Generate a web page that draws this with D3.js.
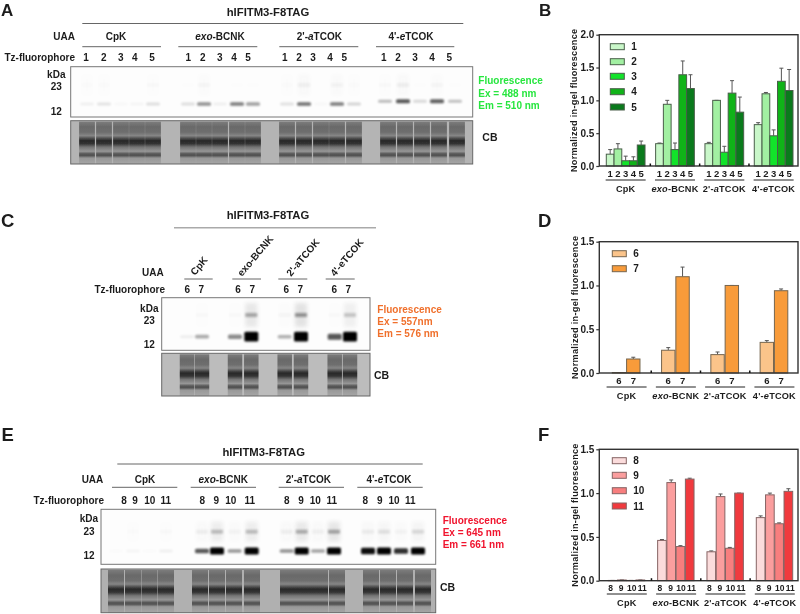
<!DOCTYPE html>
<html><head><meta charset="utf-8">
<style>
html,body{margin:0;padding:0;background:#fff;width:800px;height:614px;overflow:hidden}
svg{display:block;filter:blur(.35px)}
text{font-family:"Liberation Sans",Arial,sans-serif;font-weight:bold;fill:#1c1c1c}
</style>
<script src="https://cdn.jsdelivr.net/npm/d3@7/dist/d3.min.js"></script>
</head><body><svg id="c" width="800" height="614"></svg>
<script>
// ---------- data ----------
const groups = ["CpK","exo-BCNK","2'-aTCOK","4'-eTCOK"];
const seriesB = ["1","2","3","4","5"];
const seriesD = ["6","7"];
const seriesF = ["8","9","10","11"];
const ticksB = [0,0.5,1,1.5,2];
const ticksDF = [0,0.5,1,1.5];
// bar values per group (rows) and series (columns)
const valuesB = [[.18,.26,.08,.08,.32],[.34,.94,.25,1.39,1.18],[.34,1.0,.21,1.11,.82],[.63,1.10,.46,1.29,1.15]];
const errorsB = [[.07,.08,.07,.06,.06],[.01,.06,.10,.21,.21],[.02,0,.09,.19,.23],[.03,.02,.09,.20,.32]];
const valuesD = [[.005,.16],[.26,1.10],[.21,1.0],[.35,.94]];
const errorsD = [[0,.02],[.03,.11],[.03,0],[.02,.02]];
const valuesF = [[.003,.008,.003,.008],[.46,1.12,.39,1.16],[.33,.96,.37,1.0],[.72,.98,.65,1.02]];
const errorsF = [[0,0,0,0],[.01,.03,.01,.01],[.01,.03,.01,0],[.02,.02,.01,.03]];
// relative intensity of the gel bands, per lane
const gelAmain = [.05,.1,.02,.03,.12, .12,.42,.05,.5,.36, .11,.55,.02,.5,.16, .26,.65,.14,.62,.24];
const gelAupper = [.01,.01,0,0,.02, .005,.03,0,.005,.005, .01,.06,0,.04,.01, .02,.07,.005,.03,.005];
const gelAkDa = [12,12,12,12,12, 12,12,12,12,12, 12,12,12,12,12, 13.2,13.2,13.2,13.2,13.2];
const gelCmain = [.06,.32, .45,1, .3,1, .65,1];
const gelCupper = [0,.02, .02,.4, .03,.5, .02,.25];
const gelEmain = [.01,.03,.01,.05, .65,1,.4,1, .42,1,.35,1, .95,1,.82,1];
const gelEupper = [0,.01,0,.02, .07,.3,.04,.3, .07,.38,.06,.42, .08,.13,.04,.16];
const sizeLabels = ["kDa","23","12"];

// ---------- layout / styles ----------
const svg = d3.select("#c");
const defs = svg.append("defs");
[["soft",.8],["smear",2],["cbLane",.55]].forEach(([id,s])=>{
  defs.append("filter").attr("id",id).attr("x","-30%").attr("y","-60%").attr("width","160%").attr("height","220%")
    .append("feGaussianBlur").attr("stdDeviation",s);
});
const lg = defs.append("linearGradient").attr("id","cbGrad").attr("x1",0).attr("x2",0).attr("y1",0).attr("y2",1);
[[0,"#7c7c7c"],[.12,"#6a6a6a"],[.25,"#6e6e6e"],[.33,"#868686"],[.4,"#4a4a4a"],[.45,"#282828"],[.52,"#343434"],[.6,"#747474"],[.7,"#969696"],[.76,"#585858"],[.8,"#525252"],[.86,"#989898"],[1,"#a6a6a6"]]
 .forEach(([o,c])=>lg.append("stop").attr("offset",o).attr("stop-color",c));

function label(t,x,y,o={}){
  const e = svg.append("text").attr("x",x).attr("y",y).attr("dy",".36em")
    .attr("text-anchor",o.anchor||"middle").attr("font-size",o.size||10).text(t);
  if(o.fill) e.style("fill",o.fill);
  return e;
}
function rich(x,y,name,o={}){ // italic the prefix as in the reference
  const m = name.match(/^(exo)(-BCNK)$|^(2'-)(a)(TCOK)$|^(4'-)(e)(TCOK)$/);
  const e = label("",x,y,o);
  if(!m){e.text(name);return e;}
  m.slice(1).filter(Boolean).forEach(s=>{
    e.append("tspan").attr("font-style",(s==="exo"||s==="a"||s==="e")?"italic":"normal").text(s);
  });
  return e;
}
function hline(x1,x2,y,w,c){
  svg.append("line").attr("x1",x1).attr("x2",x2).attr("y1",y).attr("y2",y).attr("stroke",c||"#444").attr("stroke-width",w||.9);
}

function gel(cfg){
  const n = cfg.main.length;
  const yKDa = d3.scaleLog().domain([12,23]).range([cfg.y12,cfg.y23]);
  const g = svg.append("g");
  g.append("rect").attr("x",cfg.x0).attr("y",cfg.y0).attr("width",cfg.x1-cfg.x0).attr("height",cfg.y1-cfg.y0).attr("fill","#fdfdfd");
  const clip = "clip"+cfg.id;
  defs.append("clipPath").attr("id",clip).append("rect").attr("x",cfg.x0).attr("y",cfg.y0).attr("width",cfg.x1-cfg.x0).attr("height",cfg.y1-cfg.y0);
  const b = g.append("g").attr("clip-path",`url(#${clip})`);
  const idx = d3.range(n);
  b.selectAll(".up").data(idx).join("rect")
    .attr("x",i=>cfg.lanes[i]-cfg.w/2+1).attr("width",cfg.w-2)
    .attr("y",i=>yKDa(23)-cfg.smear).attr("height",cfg.smear*2)
    .attr("fill","#333").attr("opacity",i=>cfg.upper[i]*.25).attr("filter","url(#smear)");
  b.selectAll(".ub").data(idx).join("rect")
    .attr("x",i=>cfg.lanes[i]-cfg.w/2+1).attr("width",cfg.w-2)
    .attr("y",yKDa(23)-2).attr("height",4)
    .attr("fill","#222").attr("opacity",i=>cfg.upper[i]*.85).attr("filter","url(#soft)");
  const kd = i=>cfg.kDa?cfg.kDa[i]:12;
  b.selectAll(".mb").data(idx).join("rect")
    .attr("x",i=>cfg.lanes[i]-cfg.w/2).attr("width",cfg.w)
    .attr("y",i=>yKDa(kd(i))-(1.5+cfg.thick*cfg.main[i]*cfg.main[i]))
    .attr("height",i=>3+2*cfg.thick*cfg.main[i]*cfg.main[i])
    .attr("rx",1.5)
    .attr("fill","#000").attr("opacity",i=>cfg.main[i])
    .attr("filter","url(#soft)");
  g.append("rect").attr("x",cfg.x0).attr("y",cfg.y0).attr("width",cfg.x1-cfg.x0).attr("height",cfg.y1-cfg.y0)
    .attr("fill","none").attr("stroke","#777").attr("stroke-width",1);
  // Coomassie panel
  const cb = svg.append("g");
  const cx = "cbclip"+cfg.id;
  defs.append("clipPath").attr("id",cx).append("rect").attr("x",cfg.x0).attr("y",cfg.cb0).attr("width",cfg.x1-cfg.x0).attr("height",cfg.cb1-cfg.cb0);
  const cg = cb.append("g").attr("clip-path",`url(#${cx})`);
  cg.append("rect").attr("x",cfg.x0).attr("y",cfg.cb0).attr("width",cfg.x1-cfg.x0).attr("height",cfg.cb1-cfg.cb0).attr("fill",cfg.bg);
  cg.selectAll(".lane").data(cfg.cbLanes).join("rect")
    .attr("x",c=>c-cfg.cbW/2).attr("width",cfg.cbW)
    .attr("y",cfg.cb0+1).attr("height",cfg.cb1-cfg.cb0-1)
    .attr("fill","url(#cbGrad)").attr("filter","url(#cbLane)");
  cb.append("rect").attr("x",cfg.x0).attr("y",cfg.cb0).attr("width",cfg.x1-cfg.x0).attr("height",cfg.cb1-cfg.cb0)
    .attr("fill","none").attr("stroke","#666").attr("stroke-width",1);
}

function barPanel(cfg){
  const g = svg.append("g");
  const y = d3.scaleLinear().domain([0,cfg.ticks[cfg.ticks.length-1]]).range([cfg.y0,cfg.yT]);
  const xG = d3.scaleBand().domain(groups).range(cfg.xRange).paddingInner(cfg.pad).paddingOuter(0);
  const xS = d3.scaleBand().domain(cfg.series).range([0,xG.bandwidth()]);
  const cw = Math.min(xS.bandwidth(),4);
  const rows = cfg.values.flatMap((r,gi)=>r.map((v,si)=>({g:groups[gi],s:cfg.series[si],v,e:cfg.errors[gi][si],c:cfg.colors[si]})));
  const bw = xS.bandwidth()-cfg.gap;
  const cxOf = d=>xG(d.g)+xS(d.s)+bw/2;
  const spread = cfg.numSpread||1;
  const numX = d=>{const c=xG(d.g)+xG.bandwidth()/2;return c+(cxOf(d)-c)*spread;};
  // error bars
  g.selectAll(".e").data(rows).join("line").attr("x1",cxOf).attr("x2",cxOf)
    .attr("y1",d=>y(d.v)).attr("y2",d=>y(d.v+d.e)).attr("stroke","#555").attr("stroke-width",1);
  g.selectAll(".cap").data(rows).join("line").attr("x1",d=>cxOf(d)-cw/2).attr("x2",d=>cxOf(d)+cw/2)
    .attr("y1",d=>y(d.v+d.e)).attr("y2",d=>y(d.v+d.e)).attr("stroke","#555").attr("stroke-width",1);
  // bars
  g.selectAll(".b").data(rows).join("rect").attr("x",d=>xG(d.g)+xS(d.s)).attr("width",bw)
    .attr("y",d=>y(d.v)).attr("height",d=>y(0)-y(d.v)).attr("fill",d=>d.c)
    .attr("stroke",cfg.barStroke).attr("stroke-width",1);
  // frame
  g.append("rect").attr("x",cfg.xL).attr("y",cfg.yT).attr("width",cfg.xR-cfg.xL).attr("height",cfg.y0-cfg.yT)
    .attr("fill","none").attr("stroke","#333").attr("stroke-width",1.4);
  // y axis
  const ax = svg.append("g").attr("transform",`translate(${cfg.xL},0)`)
    .call(d3.axisLeft(y).tickValues(cfg.ticks).tickFormat(d3.format(".1f")).tickSize(3).tickPadding(2));
  ax.select(".domain").remove();
  ax.selectAll("line").attr("stroke","#333").attr("stroke-width",1.2);
  ax.selectAll("text").attr("font-size",cfg.tickFont||10);
  // between-group ticks
  svg.append("g").selectAll("line").data(groups.slice(1)).join("line")
    .attr("x1",d=>xG(d)-xG.step()*cfg.pad/2).attr("x2",d=>xG(d)-xG.step()*cfg.pad/2)
    .attr("y1",cfg.y0).attr("y2",cfg.y0-2.5).attr("stroke","#111").attr("stroke-width",1.5);
  // lane numbers
  svg.append("g").selectAll("text").data(rows).join("text")
    .attr("x",numX).attr("y",cfg.numY).attr("dy",".36em").attr("text-anchor","middle")
    .attr("font-size",cfg.numFont||9.5).text(d=>d.s);
  groups.forEach(gr=>{
    const c = xG(gr)+xG.bandwidth()/2;
    hline(c-20,c+20,cfg.lineY,1,"#222");
    rich(c,cfg.groupY,gr,{size:9.2}).attr("letter-spacing",".2");
  });
  // y title
  svg.append("text").attr("transform",`translate(${cfg.titleX},${(cfg.y0+cfg.yT)/2+cfg.titleDy}) rotate(-90)`)
    .attr("text-anchor","middle").attr("dy",".36em").attr("font-size",9.1).attr("letter-spacing",".3").text("Normalized in-gel fluorescence");
  // legend
  cfg.series.forEach((s,i)=>{
    const ly = cfg.legendY[i];
    svg.append("rect").attr("x",cfg.legX).attr("y",ly-3).attr("width",14).attr("height",6)
      .attr("fill",cfg.colors[i]).attr("stroke",cfg.barStroke).attr("stroke-width",1);
    label(s,cfg.legX+21,ly,{anchor:"start",size:10});
  });
}

// ---------- panel A ----------
label("A",1,9.5,{anchor:"start",size:17});
label("hIFITM3-F8TAG",268,11.7,{size:11.3});
hline(82.3,463.3,23.5,.9,"#555");
label("UAA",75,36,{anchor:"end"});
[116,220,319.3,411].forEach((x,i)=>rich(x,36,groups[i]));
[[82.3,161],[178.3,257.3],[279.3,358.3],[376,454.3]].forEach(a=>hline(a[0],a[1],46.7,.9,"#555"));
label("Tz-fluorophore",75,57.3,{anchor:"end"});
const labA=[86,103.7,120.7,134.7,152, 188.3,202.7,219.7,234,248, 284.7,299,313,330,344.3, 383.7,398,415,432,449.3];
labA.forEach((x,i)=>label(seriesB[i%5],x,57.3));
label(sizeLabels[0],56.3,74);label(sizeLabels[1],56.3,86.7);label(sizeLabels[2],56.3,111.3);
gel({id:"A",x0:70.7,x1:472.7,y0:66.7,y1:117,cb0:120.7,cb1:164,y12:104,y23:85,smear:11,thick:1.2,
  main:gelAmain,upper:gelAupper,kDa:gelAkDa,
  lanes:[87,104,121,137,153, 188,204,220,237,253, 287,304,321,337,354, 385,403,420,437,455],
  cbLanes:[87,104,121,137,153, 188,204,220,237,253, 287,304,321,337,354, 388,405,422,439,457],cbW:15.8,w:14,bg:"#b4b4b4"});
["Fluorescence","Ex = 488 nm","Em = 510 nm"].forEach((t,i)=>label(t,478.3,80.7+i*12.2,{anchor:"start",fill:"#27e63f",size:10}));
label("CB",482.3,137.7,{anchor:"start",size:10.5});

// ---------- panel C ----------
label("C",1,220,{anchor:"start",size:18.5});
label("hIFITM3-F8TAG",268,215,{size:11.3});
hline(174,376,227.7,1.6,"#aaa");
label("UAA",163.7,272.7,{anchor:"end"});
[[195,276],[242,277],[291,277],[335,277]].forEach((p,i)=>{
  svg.append("text").attr("transform",`translate(${p[0]},${p[1]}) rotate(-50)`).attr("font-size",10).text(groups[i]);
});
[[184.3,212.7],[232.3,261],[278.3,307.3],[325.7,354.7]].forEach(a=>hline(a[0],a[1],279,.9,"#555"));
label("Tz-fluorophore",165,289.3,{anchor:"end"});
[187.3,201.3,238,252.3,286.3,300.3,334.3,348.3].forEach((x,i)=>label(seriesD[i%2],x,289.3));
label(sizeLabels[0],149.3,308.3);label(sizeLabels[1],149.3,320);label(sizeLabels[2],149.3,344.3);
gel({id:"C",x0:161.7,x1:370,y0:297.7,y1:350.3,cb0:353.3,cb1:396,y12:336.7,y23:315,smear:12,thick:3.4,
  main:gelCmain,upper:gelCupper,
  lanes:[187,202,235,251.3,284.7,301,334.7,350],
  cbLanes:[187,202,235,251.3,284.7,301,334.7,350],cbW:14.5,w:14,bg:"#bcbcbc"});
["Fluorescence","Ex = 557nm","Em = 576 nm"].forEach((t,i)=>label(t,377.3,309+i*12.2,{anchor:"start",fill:"#f0702c",size:10}));
label("CB",374,375,{anchor:"start",size:10.5});

// ---------- panel E ----------
label("E",1.5,434.5,{anchor:"start",size:18.5});
label("hIFITM3-F8TAG",263.7,452.3,{size:11.3});
hline(117.3,422.7,464,.9,"#555");
label("UAA",103.3,479,{anchor:"end"});
[145,223.3,308.3,389].forEach((x,i)=>rich(x,479,groups[i]));
[[112,177.3],[190.7,256],[278.7,344],[357.3,422.7]].forEach(a=>hline(a[0],a[1],487.3,.9,"#555"));
label("Tz-fluorophore",104,500.7,{anchor:"end"});
[124,135,149.7,165.7, 202.3,216.3,230.7,249.7, 286.7,301,315.3,331.7, 365.3,379.7,394,410.3].forEach((x,i)=>label(seriesF[i%4],x,500.7));
label(sizeLabels[0],89,518.7);label(sizeLabels[1],89,531);label(sizeLabels[2],89,555.7);
gel({id:"E",x0:101,x1:435.7,y0:509.3,y1:564.3,cb0:569,cb1:612.7,y12:551,y23:531.7,smear:10,thick:2,
  main:gelEmain,upper:gelEupper,
  lanes:[116,133,149.5,166, 202,217,234.6,251.7, 286.7,301.7,318,334, 368,384,401,418],
  cbLanes:[116,133,149.5,166, 200,217,234,252, 288,304,320,337, 371,388,405,423],cbW:16,w:14,bg:"#b0b0b0"});
["Fluorescence","Ex = 645 nm","Em = 661 nm"].forEach((t,i)=>label(t,442.7,520.3+i*12.2,{anchor:"start",fill:"#f0142e",size:10}));
label("CB",440,587.3,{anchor:"start",size:10.5});

// ---------- bar panels ----------
label("B",539,9.5,{anchor:"start",size:17});
barPanel({series:seriesB,values:valuesB,errors:errorsB,ticks:ticksB,
  colors:["#c9f7c9","#a2f0a2","#12e32a","#10b318","#0a7a1c"],barStroke:"#4a5f4a",
  xL:599.3,xR:798,yT:34.7,y0:166,xRange:[606.3,793],pad:.215,gap:0,
  numY:173.7,lineY:180,groupY:188.3,titleX:573.3,titleDy:0,
  legX:610.3,legendY:[46.7,61.7,76.3,91.7,107]});
label("D",538,220,{anchor:"start",size:18.5});
barPanel({series:seriesD,values:valuesD,errors:errorsD,ticks:ticksDF,
  colors:["#fbc48a","#f89b3a"],barStroke:"#76664f",
  xL:599.3,xR:798,yT:241.7,y0:373,xRange:[612.3,788.7],pad:.42,gap:.9,
  numY:381,lineY:387,groupY:395.7,titleX:574.5,titleDy:0,
  legX:612.3,legendY:[253.7,268.7]});
label("F",538,434.5,{anchor:"start",size:18.5});
barPanel({series:seriesF,values:valuesF,errors:errorsF,ticks:ticksDF,numFont:8.5,numSpread:1.14,
  colors:["#fbdcdc","#fb9e9e","#f87e7e","#f03a3e"],barStroke:"#866464",
  xL:599.3,xR:798,yT:449.3,y0:580.7,xRange:[608.3,793.3],pad:.25,gap:.6,
  numY:588.3,lineY:594,groupY:602.7,titleX:574.5,titleDy:0,
  legX:612.3,legendY:[460.7,475.3,490.7,506]});
</script></body></html>
